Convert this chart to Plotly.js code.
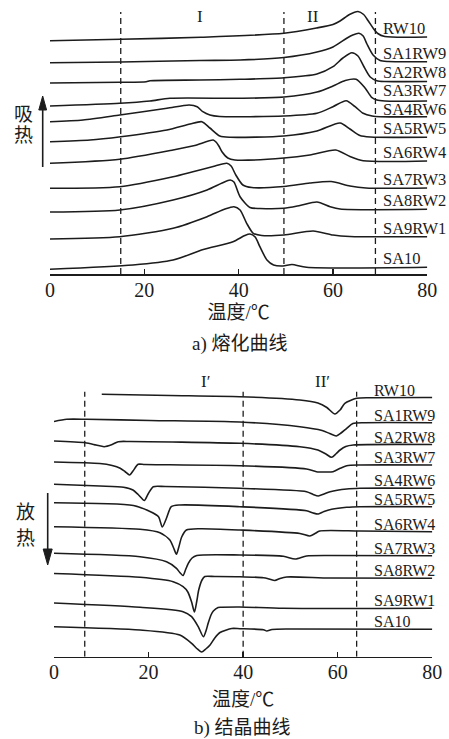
<!DOCTYPE html>
<html><head><meta charset="utf-8">
<script src="https://cdn.plot.ly/plotly-3.0.1.min.js"></script>
<style>html,body{margin:0;padding:0;background:#fff}#chart{width:449px;height:739px}</style>
</head><body><div id="chart"></div>
<script>
// ---------- sample names ----------
const samples = ['RW10','SA1RW9','SA2RW8','SA3RW7','SA4RW6','SA5RW5','SA6RW4','SA7RW3','SA8RW2','SA9RW1','SA10'];

// ---------- a) melting curves (temperature °C, stacked heat flow, arb. units) ----------
const melt_RW10_T   = [0, 15, 32, 49.6, 56.5, 60, 61.5, 63.5, 65.3, 66.5, 67.5, 68.5, 69.5, 71, 80];
const melt_RW10_hf  = [233.3, 234.7, 236.7, 240.7, 246, 249.5, 253, 259.5, 262.5, 259.5, 253, 246, 240.5, 237.5, 237];
const melt_SA1RW9_T  = [0, 15, 31.8, 40.3, 49.6, 56.6, 60, 63, 64.2, 65.5, 66.4, 67.2, 68.5, 70, 71.7, 80];
const melt_SA1RW9_hf = [211.3, 212, 213.5, 214, 216.5, 222, 227, 236, 239, 240.7, 238, 230, 219, 213.5, 212.5, 212.3];
const melt_SA2RW8_T  = [0, 14.8, 20.4, 21.2, 31.8, 40.3, 49.6, 56.6, 60, 62.1, 64, 65.3, 66.6, 67.9, 69.3, 71, 80];
const melt_SA2RW8_hf = [191, 191.7, 192.3, 193.3, 194, 194.7, 196.2, 200, 207.3, 216, 221.3, 218, 207, 197, 193.3, 192.5, 192.5];
const melt_SA3RW7_T  = [0, 14.8, 21.2, 25.4, 40.3, 49.6, 56.6, 60, 62.6, 64.9, 66.8, 68.2, 69.3, 71, 80];
const melt_SA3RW7_hf = [168, 170.7, 173, 175.7, 175.7, 177, 182, 188, 193.5, 194.7, 186, 176.7, 174, 173, 173];
const melt_SA4RW6_T  = [0, 7, 14.8, 24.8, 29.5, 31.2, 32.4, 33.9, 36, 49.6, 56.6, 60, 62.8, 64.7, 66.4, 68.3, 70, 80];
const melt_SA4RW6_hf = [152.3, 154, 159, 165.7, 169, 167.3, 162.3, 159, 157.5, 158, 160.7, 167.3, 173.3, 167.3, 160.7, 158, 157.3, 157.3];
const melt_SA5RW5_T  = [0, 8.5, 15, 24.8, 29.7, 32.2, 33.9, 36, 38.2, 49.6, 56.6, 61.5, 63.6, 65.7, 67.9, 80];
const melt_SA5RW5_hf = [132.3, 134, 137.3, 144, 150, 152.3, 146, 138, 136.7, 138, 143, 151, 145, 138.5, 137, 136.7];
const melt_SA6RW4_T  = [0, 14.8, 26.1, 30.7, 34.6, 35.2, 35.8, 36.5, 37.7, 39.2, 49.6, 55.1, 60.6, 63.6, 66.4, 80];
const melt_SA6RW4_hf = [110.7, 114.7, 124, 128.5, 134, 132, 128, 122, 116, 114, 116, 119, 124, 117.5, 113.3, 113];
const melt_SA7RW3_T  = [0, 14.8, 26.1, 30.3, 35, 37.5, 38.4, 39.4, 40.9, 42.8, 49.6, 55.1, 59.6, 63.6, 67, 80];
const melt_SA7RW3_hf = [85.7, 87.3, 97.3, 102.3, 108, 110.7, 108, 99, 89, 86.5, 87.5, 91, 92.5, 88, 86, 86];
const melt_SA8RW2_T  = [0, 14.8, 26.1, 33.3, 36.5, 38.2, 39, 40.3, 42.4, 44.5, 49.6, 53, 56.6, 59.4, 61.5, 80];
const melt_SA8RW2_hf = [62, 64, 74, 84, 91, 94, 92, 77.3, 66.5, 65.5, 65.7, 68.5, 72, 67.3, 65, 64.7];
const melt_SA9RW1_T  = [0, 14.8, 26.1, 33.3, 37.1, 39, 40.3, 41.7, 43.1, 44.9, 49.6, 55.8, 60, 63.6, 80];
const melt_SA9RW1_hf = [35, 37.3, 45.7, 57.3, 65, 67.3, 64, 50.7, 40.7, 38.5, 39, 43, 39, 37.5, 37.3];
const melt_SA10_T    = [0, 17.6, 26.1, 32.5, 38.8, 41.3, 42.4, 43.5, 44.5, 46, 47.4, 49.4, 51.3, 54.4, 80];
const melt_SA10_hf   = [4.7, 9, 14, 24.5, 32.3, 38.5, 40, 37, 27.3, 14, 9, 8, 9.5, 6.7, 6.7];

// ---------- b) crystallization curves ----------
const cry_RW10_T   = [10.1, 24.5, 39.3, 52, 55.8, 57.7, 59.4, 60.5, 61.5, 64, 66.8, 80];
const cry_RW10_hf  = [262.4, 261.2, 260, 256.7, 253.7, 249.2, 242.7, 246.7, 253.4, 258.4, 259, 259.2];
const cry_SA1RW9_T  = [0, 2.7, 6.9, 20.3, 39.3, 52, 56.7, 58.3, 59.7, 60.7, 61.9, 63.2, 65.8, 80];
const cry_SA1RW9_hf = [235.2, 237.4, 237.4, 236.2, 234.7, 230, 226.2, 223.2, 220.7, 223.7, 228.4, 233.2, 234, 234];
const cry_SA2RW8_T  = [0, 6.6, 8.9, 10.6, 12.3, 13.6, 16.1, 39.3, 52, 55.8, 57.5, 58.7, 59.6, 60.5, 61.7, 63.3, 80];
const cry_SA2RW8_hf = [215.7, 214, 211.7, 210, 212.2, 215, 215.2, 213.4, 210, 206.7, 202.7, 199.4, 202.7, 206.7, 210.2, 211.7, 212.2];
const cry_SA3RW7_T  = [0, 9.7, 12.3, 14, 15, 16, 16.7, 17.8, 19.2, 39.3, 53.4, 55.5, 57.3, 59, 60.5, 61.9, 64.7, 80];
const cry_SA3RW7_hf = [194.7, 193.2, 191.2, 188.4, 185.2, 181.7, 185.7, 192.4, 192.2, 191, 187.7, 185, 184.7, 185, 188.4, 191, 191.7, 191.7];
const cry_SA4RW6_T  = [0, 9.7, 14.7, 16.7, 17.8, 19.1, 19.9, 21, 23.5, 39.3, 53.4, 54.8, 55.9, 57.1, 58.4, 61.9, 64.7, 80];
const cry_SA4RW6_hf = [172.4, 170.7, 169.4, 166.7, 162.2, 156.2, 162.7, 170, 170.2, 168.4, 165, 162.2, 160.7, 162.7, 165, 167.7, 168.4, 168.4];
const cry_SA5RW5_T  = [0, 16.8, 20.3, 22.1, 22.9, 23.8, 24.8, 26.6, 39.3, 53.4, 54.8, 55.9, 57.1, 58.7, 61.9, 64.7, 80];
const cry_SA5RW5_hf = [154, 151.2, 145.2, 140, 129.7, 138.7, 150, 151.7, 150, 146, 143.7, 142.7, 145.2, 147.4, 149.4, 150, 150];
const cry_SA6RW4_T  = [0, 18.2, 22.4, 24.5, 25.3, 25.9, 26.4, 27, 28, 30.9, 39.3, 52, 54.1, 55.2, 56.2, 64.7, 80];
const cry_SA6RW4_hf = [130, 127.4, 124, 116.7, 108.7, 102.5, 109.7, 119.7, 126.7, 128, 126.7, 123.2, 120.7, 123.2, 125.7, 125.7, 125];
const cry_SA7RW3_T  = [0, 18.2, 23.8, 25.9, 26.6, 27.3, 27.8, 28.4, 29.2, 30.2, 39.3, 48.5, 51, 53.4, 58.4, 80];
const cry_SA7RW3_hf = [103.4, 100, 95, 88.4, 84.2, 81.2, 86.7, 93.4, 98.7, 101.2, 101.7, 100.4, 97.7, 100.7, 101.2, 101];
const cry_SA8RW2_T  = [0, 18.2, 25.2, 27.3, 28.3, 29.1, 29.7, 30.2, 30.6, 31.3, 31.9, 34, 39.3, 44.3, 45.5, 46.7, 47.8, 49.2, 58.4, 80];
const cry_SA8RW2_hf = [83.2, 79.4, 75, 70, 64.7, 54.7, 44.7, 55.7, 66.7, 76.7, 80.2, 80.2, 80, 79, 77.7, 76.2, 78.2, 79.7, 78.7, 78.4];
const cry_SA9RW1_T  = [0, 18.2, 27.3, 29.1, 30.5, 31.6, 32.2, 32.6, 33.2, 33.7, 34.7, 35.4, 39.3, 48.5, 80];
const cry_SA9RW1_hf = [53.7, 49.4, 45, 40, 30, 20, 26.7, 33.4, 41.7, 45.7, 49.2, 49.4, 49.7, 48.4, 48.4];
const cry_SA10_T    = [0, 18.2, 26.6, 29.1, 30.2, 31.2, 32.1, 33, 34, 35.1, 37.6, 39.3, 44.3, 45, 46.1, 49.9, 80];
const cry_SA10_hf   = [30, 26.7, 21.7, 13.4, 8.2, 4.7, 7.7, 11.7, 18.7, 24.2, 28.2, 28, 27, 25.7, 27.2, 27.7, 27.4];

// region boundaries (°C) and region labels
const meltBounds = [15, 49.6, 69];
const cryBounds  = [6.5, 40, 64];
const meltRegionText = ['I', 'II'];
const meltRegionT    = [31.8, 55.8];
const cryRegionText  = ['I\u2032', 'II\u2032'];
const cryRegionT     = [32, 56.7];
const xTicks = [0, 20, 40, 60, 80];

// ---------- build ----------
const meltT  = [melt_RW10_T, melt_SA1RW9_T, melt_SA2RW8_T, melt_SA3RW7_T, melt_SA4RW6_T, melt_SA5RW5_T, melt_SA6RW4_T, melt_SA7RW3_T, melt_SA8RW2_T, melt_SA9RW1_T, melt_SA10_T];
const meltHF = [melt_RW10_hf, melt_SA1RW9_hf, melt_SA2RW8_hf, melt_SA3RW7_hf, melt_SA4RW6_hf, melt_SA5RW5_hf, melt_SA6RW4_hf, melt_SA7RW3_hf, melt_SA8RW2_hf, melt_SA9RW1_hf, melt_SA10_hf];
const cryT   = [cry_RW10_T, cry_SA1RW9_T, cry_SA2RW8_T, cry_SA3RW7_T, cry_SA4RW6_T, cry_SA5RW5_T, cry_SA6RW4_T, cry_SA7RW3_T, cry_SA8RW2_T, cry_SA9RW1_T, cry_SA10_T];
const cryHF  = [cry_RW10_hf, cry_SA1RW9_hf, cry_SA2RW8_hf, cry_SA3RW7_hf, cry_SA4RW6_hf, cry_SA5RW5_hf, cry_SA6RW4_hf, cry_SA7RW3_hf, cry_SA8RW2_hf, cry_SA9RW1_hf, cry_SA10_hf];

const INK = '#1c1c1c';
const SERIF = 'Liberation Serif, "Noto Sans CJK SC", serif';
const CJK = 'Liberation Serif, "Noto Sans CJK SC", sans-serif';
const W = 449, H = 739;
const px = v => v / W, py = v => 1 - v / H;
// label vertical nudges (px) where two labels sit close together
const meltLabelShift = {SA3RW7: -1, SA4RW6: -4.5};

const traces = [];
samples.forEach((s, i) => {
  traces.push({x: meltT[i], y: meltHF[i], xaxis: 'x', yaxis: 'y', mode: 'lines', name: s,
    line: {color: INK, width: 1.6, shape: 'spline', smoothing: 0.7}, hoverinfo: 'skip', showlegend: false});
  traces.push({x: cryT[i], y: cryHF[i], xaxis: 'x2', yaxis: 'y2', mode: 'lines', name: s,
    line: {color: INK, width: 1.6, shape: 'spline', smoothing: 0.7}, hoverinfo: 'skip', showlegend: false});
});

const annotations = [];
samples.forEach((s, i) => {
  annotations.push({xref: 'x', yref: 'y', x: 70.2, y: meltHF[i][meltHF[i].length - 1], text: s,
    xanchor: 'left', yanchor: 'bottom', yshift: (s in meltLabelShift) ? meltLabelShift[s] : -3, borderpad: 1,
    showarrow: false, font: {family: SERIF, size: 16.5, color: INK}});
  annotations.push({xref: 'x2', yref: 'y2', x: 67.2, y: cryHF[i][cryHF[i].length - 1], text: s,
    xanchor: 'left', yanchor: 'bottom', yshift: -3, showarrow: false, font: {family: SERIF, size: 16, color: INK}});
});
meltRegionText.forEach((t, i) => annotations.push({xref: 'x', yref: 'paper', x: meltRegionT[i], y: py(17), text: t,
  showarrow: false, xanchor: 'center', yanchor: 'middle', font: {family: SERIF, size: 17, color: INK}}));
cryRegionText.forEach((t, i) => annotations.push({xref: 'x2', yref: 'paper', x: cryRegionT[i], y: py(381), text: t,
  showarrow: false, xanchor: 'center', yanchor: 'middle', font: {family: SERIF, size: 17, color: INK}}));
// side notes and captions
[['吸', 23, 114.5], ['热', 23, 135], ['放', 25, 512.5], ['热', 25, 538.5]].forEach(a =>
  annotations.push({xref: 'paper', yref: 'paper', x: px(a[1]), y: py(a[2]), text: a[0], showarrow: false,
    xanchor: 'center', yanchor: 'middle', font: {family: CJK, size: 19, color: INK}}));
annotations.push({xref: 'paper', yref: 'paper', x: px(240), y: py(343.5), text: 'a) 熔化曲线', showarrow: false,
  xanchor: 'center', yanchor: 'middle', font: {family: CJK, size: 19, color: INK}});
annotations.push({xref: 'paper', yref: 'paper', x: px(242), y: py(727.5), text: 'b) 结晶曲线', showarrow: false,
  xanchor: 'center', yanchor: 'middle', font: {family: CJK, size: 19, color: INK}});

const shapes = [];
meltBounds.forEach(b => shapes.push({type: 'line', xref: 'x', yref: 'y', x0: b, x1: b, y0: 0, y1: 262,
  line: {color: INK, width: 1.3, dash: '6px,4px'}}));
cryBounds.forEach(b => shapes.push({type: 'line', xref: 'x2', yref: 'y2', x0: b, x1: b, y0: 0, y1: 265,
  line: {color: INK, width: 1.3, dash: '6px,4px'}}));
// arrows
shapes.push({type: 'line', xref: 'paper', yref: 'paper', x0: px(42.7), x1: px(42.7), y0: py(167), y1: py(106), line: {color: INK, width: 1.6}});
shapes.push({type: 'path', xref: 'paper', yref: 'paper', fillcolor: INK, line: {color: INK, width: 1},
  path: `M ${px(42.7)} ${py(96)} L ${px(38.8)} ${py(110)} L ${px(46.6)} ${py(110)} Z`});
shapes.push({type: 'line', xref: 'paper', yref: 'paper', x0: px(47.7), x1: px(47.7), y0: py(493), y1: py(552), line: {color: INK, width: 1.6}});
shapes.push({type: 'path', xref: 'paper', yref: 'paper', fillcolor: INK, line: {color: INK, width: 1},
  path: `M ${px(47.7)} ${py(565)} L ${px(43.2)} ${py(549)} L ${px(52.2)} ${py(549)} Z`});

const xaxisBase = {range: [0, 80], tickvals: xTicks, ticktext: xTicks.map(String), ticks: 'inside', ticklen: 5, tickwidth: 1.5,
  tickcolor: INK, showline: true, linecolor: INK, linewidth: 1.6, showgrid: false, zeroline: false, fixedrange: true,
  tickfont: {family: SERIF, size: 20, color: INK}, ticklabelstandoff: -3};

const layout = {
  width: W, height: H, margin: {l: 0, r: 0, t: 0, b: 0}, paper_bgcolor: '#fff', plot_bgcolor: 'rgba(0,0,0,0)',
  showlegend: false,
  xaxis: Object.assign({}, xaxisBase, {domain: [px(50), px(427.3)], anchor: 'y',
    title: {text: '温度/℃', font: {family: CJK, size: 19, color: INK}, standoff: 6}}),
  yaxis: {domain: [py(274), py(6)], range: [0, 268], visible: false, fixedrange: true},
  xaxis2: Object.assign({}, xaxisBase, {domain: [px(54), px(432.3)], anchor: 'y2',
    title: {text: '温度/℃', font: {family: CJK, size: 19, color: INK}, standoff: 10}}),
  yaxis2: {domain: [py(656.7), py(385)], range: [0, 271.7], visible: false, fixedrange: true},
  annotations, shapes
};
Plotly.newPlot('chart', traces, layout, {displayModeBar: false, staticPlot: true});
</script>
</body></html>
